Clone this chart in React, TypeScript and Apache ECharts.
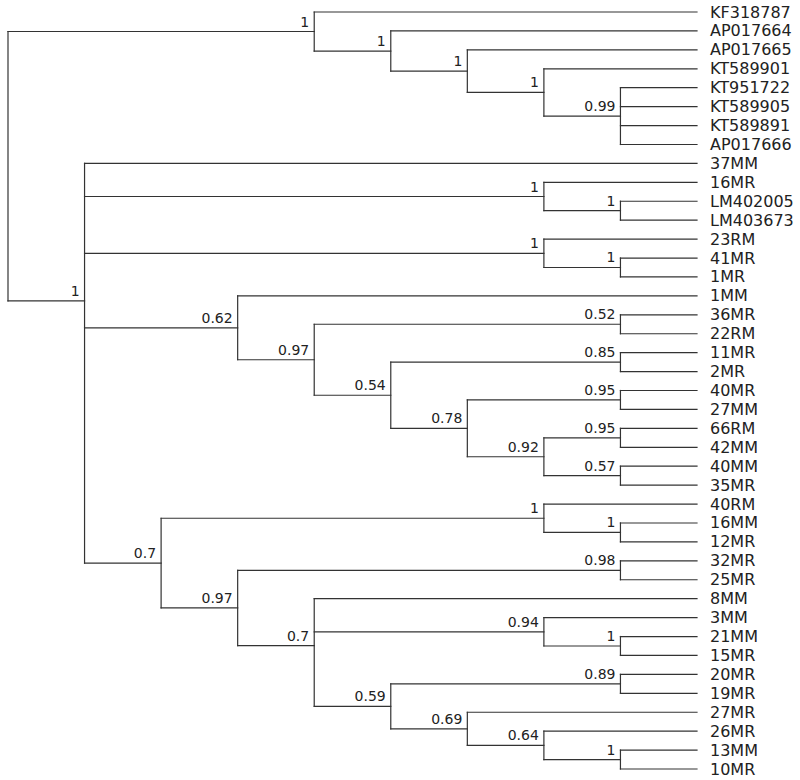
import React, { useEffect, useRef } from "react";
import * as echarts from "echarts";

// Tree topology with support values (Newick), leaves listed top to bottom
const treeNewick =
  "((KF318787,(AP017664,(AP017665,(KT589901,(KT951722,KT589905,KT589891,AP017666)0.99)1)1)1)1," +
  "(37MM,(16MR,(LM402005,LM403673)1)1,(23RM,(41MR,1MR)1)1," +
  "(1MM,((36MR,22RM)0.52,((11MR,2MR)0.85,((40MR,27MM)0.95,((66RM,42MM)0.95,(40MM,35MR)0.57)0.92)0.78)0.54)0.97)0.62," +
  "((40RM,(16MM,12MR)1)1,((32MR,25MR)0.98,(8MM,(3MM,(21MM,15MR)1)0.94,((20MR,19MR)0.89,(27MR,(26MR,(13MM,10MR)1)0.64)0.69)0.59)0.7)0.97)0.7)1);";

type TNode = { name?: string; support?: string; children: TNode[]; h?: number; x?: number; y?: number };

function parseNewick(s: string): TNode {
  let i = 0;
  function node(): TNode {
    if (s[i] === "(") {
      i++;
      const children: TNode[] = [node()];
      while (s[i] === ",") {
        i++;
        children.push(node());
      }
      i++; // ')'
      let lab = "";
      while (i < s.length && /[0-9.]/.test(s[i])) {
        lab += s[i];
        i++;
      }
      return { children, support: lab };
    }
    let name = "";
    while (i < s.length && !",();".includes(s[i])) {
      name += s[i];
      i++;
    }
    return { name, children: [] };
  }
  return node();
}

function buildLayout() {
  const root = parseNewick(treeNewick);
  let leafIdx = 0;
  const measure = (n: TNode) => {
    if (!n.children.length) {
      n.h = 0;
      n.y = leafIdx++;
      return;
    }
    n.children.forEach(measure);
    n.h = 1 + Math.max(...n.children.map((c) => c.h as number));
    n.y = n.children.reduce((a, c) => a + (c.y as number), 0) / n.children.length;
  };
  measure(root);
  const maxH = root.h as number;
  const segments: number[][] = [];
  const supports: (number | string)[][] = [];
  const leafLabels: (number | string)[][] = [];
  const place = (n: TNode) => {
    n.x = maxH - (n.h as number);
    if (!n.children.length) {
      leafLabels.push([n.x, n.y as number, n.name as string]);
      return;
    }
    n.children.forEach(place);
    const first = n.children[0];
    const last = n.children[n.children.length - 1];
    segments.push([n.x, first.y as number, n.x, last.y as number]);
    n.children.forEach((c) => segments.push([n.x as number, c.y as number, c.x as number, c.y as number]));
    if (n.support) supports.push([n.x, n.y as number, n.support]);
  };
  place(root);
  return { segments, supports, leafLabels, maxH, leafCount: leafIdx };
}

export default function App() {
  const ref = useRef<HTMLDivElement>(null);
  useEffect(() => {
    if (!ref.current) return;
    const chart = echarts.init(ref.current, null, { renderer: "svg" });
    const { segments, supports, leafLabels, maxH, leafCount } = buildLayout();
    const lineColor = "#333";
    chart.setOption({
      animation: false,
      backgroundColor: "#fff",
      grid: { left: 8, right: 103, top: 12, bottom: 11 },
      xAxis: { type: "value", min: 0, max: maxH, show: false },
      yAxis: { type: "value", min: 0, max: leafCount - 1, inverse: true, show: false },
      series: [
        {
          type: "custom",
          clip: false,
          data: segments,
          encode: { x: [0, 2], y: [1, 3] },
          renderItem: (params: any, api: any) => {
            const p1 = api.coord([api.value(0), api.value(1)]);
            const p2 = api.coord([api.value(2), api.value(3)]);
            return {
              type: "line",
              shape: { x1: p1[0], y1: p1[1], x2: p2[0], y2: p2[1] },
              style: { stroke: lineColor, lineWidth: 1.2, lineCap: "square" },
            };
          },
        },
        {
          type: "custom",
          clip: false,
          data: leafLabels,
          encode: { x: 0, y: 1 },
          renderItem: (params: any, api: any) => {
            const p = api.coord([api.value(0), api.value(1)]);
            return {
              type: "text",
              x: p[0] + 13,
              y: p[1],
              style: {
                text: leafLabels[params.dataIndex][2],
                fill: "#222",
                fontSize: 16,
                fontFamily: "DejaVu Sans",
                align: "left",
                verticalAlign: "middle",
                textAlign: "left",
                textVerticalAlign: "middle",
              },
            };
          },
        },
        {
          type: "custom",
          clip: false,
          data: supports,
          encode: { x: 0, y: 1 },
          renderItem: (params: any, api: any) => {
            const p = api.coord([api.value(0), api.value(1)]);
            return {
              type: "text",
              x: p[0] - 5,
              y: p[1] - 3,
              style: {
                text: supports[params.dataIndex][2],
                fill: "#222",
                fontSize: 14,
                fontFamily: "DejaVu Sans",
                align: "right",
                verticalAlign: "bottom",
                textAlign: "right",
                textVerticalAlign: "bottom",
              },
            };
          },
        },
      ],
    });
    return () => chart.dispose();
  }, []);
  return (
    <div
      ref={ref}
      style={{ position: "absolute", left: 0, top: 0, width: 800, height: 780, background: "#fff" }}
    />
  );
}
